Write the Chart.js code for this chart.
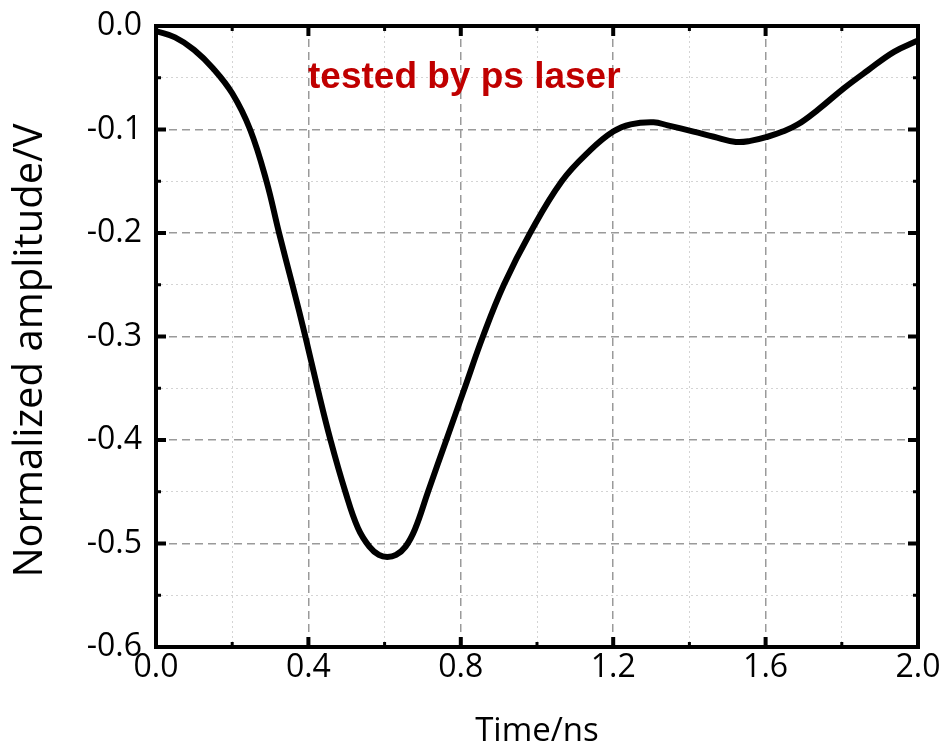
<!DOCTYPE html>
<html>
<head>
<meta charset="utf-8">
<script src="https://cdn.jsdelivr.net/npm/chart.js@4/dist/chart.umd.min.js"></script>
<style>
  html, body { margin: 0; padding: 0; background: #fff; }
  #wrap { width: 948px; height: 751px; }
</style>
</head>
<body>
<div id="wrap"><canvas id="pulse" width="948" height="751"></canvas></div>
<script>
// pulse response
var timeNs = [0.00, 0.05, 0.10, 0.15, 0.20, 0.247, 0.29, 0.323, 0.358, 0.392,
  0.424, 0.458, 0.497, 0.53, 0.56, 0.585, 0.607, 0.63, 0.655, 0.68,
  0.714, 0.762, 0.81, 0.858, 0.913, 0.982, 1.065, 1.14, 1.20, 1.246,
  1.306, 1.343, 1.411, 1.464, 1.522, 1.56, 1.605, 1.645, 1.685, 1.737,
  1.806, 1.868, 1.937, 2.00];
var amplitudeV = [-0.005, -0.011, -0.023, -0.041, -0.065, -0.100, -0.150, -0.200, -0.250, -0.300,
  -0.350, -0.400, -0.450, -0.485, -0.503, -0.511, -0.513, -0.511, -0.503, -0.486,
  -0.450, -0.400, -0.350, -0.300, -0.250, -0.200, -0.150, -0.120, -0.102, -0.095,
  -0.093, -0.096, -0.102, -0.107, -0.112, -0.111, -0.107, -0.102, -0.095, -0.081,
  -0.060, -0.043, -0.025, -0.014];

var xTicks = [0, 0.2, 0.4, 0.6, 0.8, 1.0, 1.2, 1.4, 1.6, 1.8, 2.0];
var yTicks = [0, -0.05, -0.1, -0.15, -0.2, -0.25, -0.3, -0.35, -0.4, -0.45, -0.5, -0.55, -0.6];
var note = 'tested by ps laser';
var yTitle = 'Normalized amplitude/V';

function xMajor(v) { return Math.abs(v / 0.4 - Math.round(v / 0.4)) < 1e-6; }
function yMajor(v) { return Math.abs(v * 10 - Math.round(v * 10)) < 1e-6; }

var points = timeNs.map(function (t, i) { return {x: t, y: amplitudeV[i]}; });

// frame + inward ticks on all four sides, y title and the red note
var frame = {
  id: 'frame',
  afterDatasetsDraw: function (chart) {
    var c = chart.ctx, a = chart.chartArea;
    var xs = chart.scales.x, ys = chart.scales.y;
    c.save();
    c.strokeStyle = '#000';
    c.lineCap = 'butt';
    xTicks.forEach(function (v) {
      var px = xs.getPixelForValue(v);
      var len = xMajor(v) ? 10 : 5;
      c.lineWidth = xMajor(v) ? 4 : 3;
      c.beginPath();
      c.moveTo(px, a.bottom); c.lineTo(px, a.bottom - len);
      c.moveTo(px, a.top); c.lineTo(px, a.top + len);
      c.stroke();
    });
    yTicks.forEach(function (v) {
      var py = ys.getPixelForValue(v);
      var len = yMajor(v) ? 10 : 5;
      c.lineWidth = yMajor(v) ? 4 : 3;
      c.beginPath();
      c.moveTo(a.left, py); c.lineTo(a.left + len, py);
      c.moveTo(a.right, py); c.lineTo(a.right - len, py);
      c.stroke();
    });
    c.lineWidth = 4;
    c.strokeRect(a.left, a.top, a.right - a.left, a.bottom - a.top);

    c.fillStyle = '#c00000';
    c.font = 'bold 37px "Liberation Sans", Arial, sans-serif';
    c.textBaseline = 'middle';
    c.textAlign = 'left';
    c.fillText(note, a.left + 152, a.top + 52);

    c.fillStyle = '#000';
    c.font = '40px "Open Sans", sans-serif';
    c.textAlign = 'center';
    c.translate(31, (a.top + a.bottom) / 2 + 14);
    c.rotate(-Math.PI / 2);
    c.fillText(yTitle, 0, 0);
    c.restore();
  }
};

new Chart(document.getElementById('pulse'), {
  type: 'line',
  data: {
    datasets: [{
      data: points,
      borderColor: '#000',
      borderWidth: 6,
      pointRadius: 0,
      tension: 0.4,
      borderCapStyle: 'round',
      borderJoinStyle: 'round'
    }]
  },
  options: {
    responsive: false,
    animation: false,
    layout: {padding: {left: 0, top: 26, right: 30, bottom: 0}},
    plugins: {legend: {display: false}, tooltip: {enabled: false}},
    scales: {
      x: {
        type: 'linear', min: 0, max: 2,
        afterBuildTicks: function (s) { s.ticks = xTicks.map(function (v) { return {value: v}; }); },
        afterFit: function (s) { s.height = 104; s.paddingLeft = 0; s.paddingRight = 0; },
        ticks: {
          autoSkip: false, maxRotation: 0, padding: 2,
          color: '#000',
          font: {family: '"Open Sans", sans-serif', size: 32},
          callback: function (v) { return xMajor(v) ? v.toFixed(1) : ''; }
        },
        grid: {
          drawTicks: false,
          color: function (ctx) { return xMajor(ctx.tick.value) ? '#9a9a9a' : '#d4d4d4'; },
          lineWidth: function (ctx) { return xMajor(ctx.tick.value) ? 1.5 : 1; }
        },
        border: {
          display: false,
          dash: function (ctx) { return xMajor(ctx.tick.value) ? [8, 5] : [2, 3]; }
        },
        title: {
          display: true, text: 'Time/ns', color: '#000',
          font: {family: '"Open Sans", sans-serif', size: 33},
          padding: {top: 0, bottom: 0}
        }
      },
      y: {
        type: 'linear', min: -0.6, max: 0,
        afterBuildTicks: function (s) { s.ticks = yTicks.map(function (v) { return {value: v}; }); },
        afterFit: function (s) { s.width = 156; s.paddingTop = 0; s.paddingBottom = 0; },
        ticks: {
          autoSkip: false, padding: 14,
          color: '#000',
          font: {family: '"Open Sans", sans-serif', size: 32},
          callback: function (v) { return yMajor(v) ? v.toFixed(1) : ''; }
        },
        grid: {
          drawTicks: false,
          color: function (ctx) { return yMajor(ctx.tick.value) ? '#9a9a9a' : '#d4d4d4'; },
          lineWidth: function (ctx) { return yMajor(ctx.tick.value) ? 1.5 : 1; }
        },
        border: {
          display: false,
          dash: function (ctx) { return yMajor(ctx.tick.value) ? [8, 5] : [2, 3]; }
        },
        title: {display: false}
      }
    }
  },
  plugins: [frame]
});
</script>
</body>
</html>
